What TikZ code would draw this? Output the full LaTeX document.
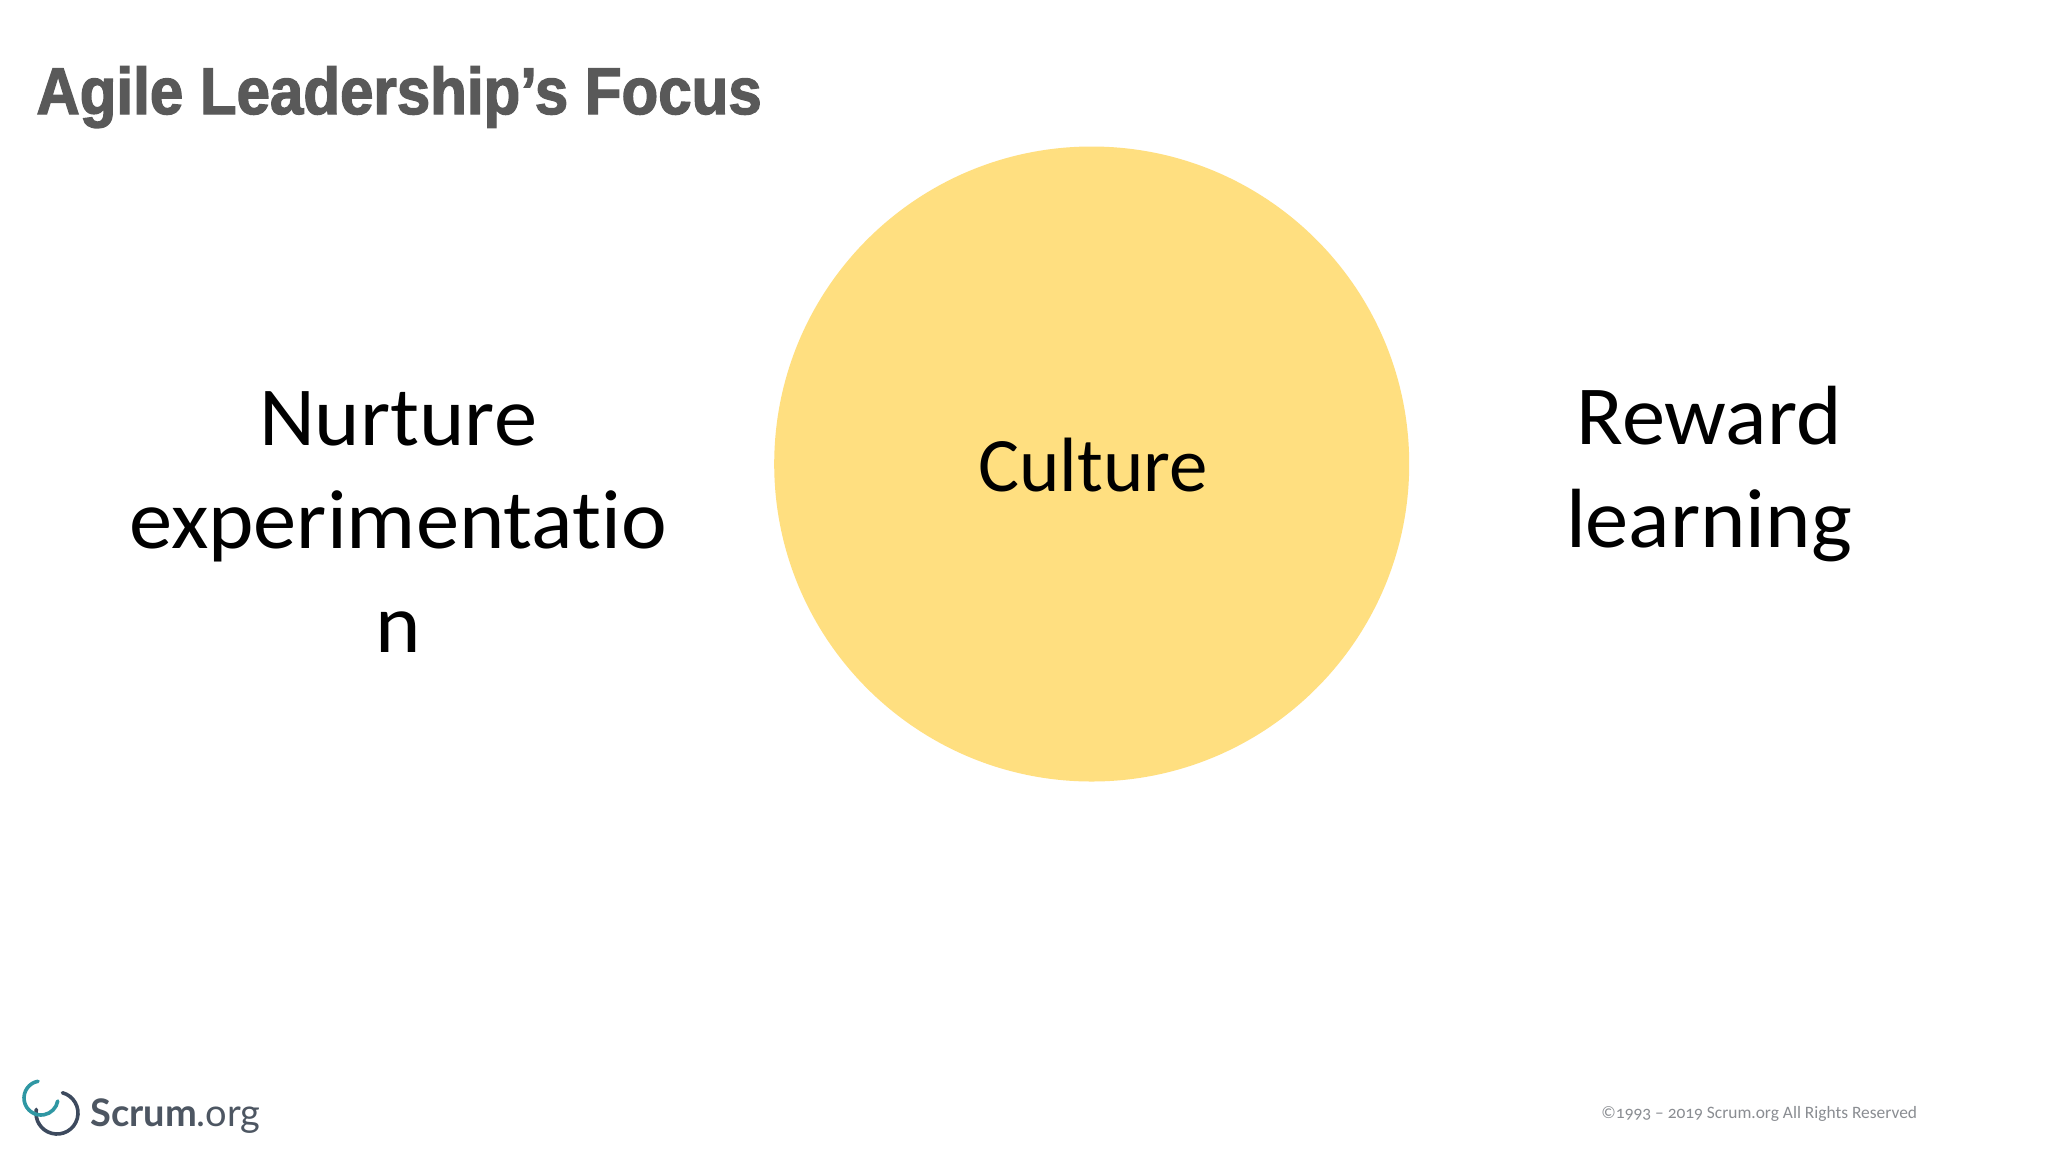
\documentclass[tikz,border=0pt]{standalone}
\usepackage{fontspec}
\usetikzlibrary{calc}
\setmainfont{Carlito}[Ligatures=NoCommon]
\newfontfamily\bigfont[Ligatures=NoCommon,FakeStretch=1.03]{Carlito}
\newfontfamily\titlefont[FakeStretch=0.91,FakeBold=2]{Liberation Sans Bold}
\newfontfamily\logofont{Lato}
\newfontfamily\noteFont[Numbers=OldStyle]{Carlito}
\definecolor{circleyellow}{HTML}{FFDF80}
\definecolor{titlegrey}{HTML}{595959}
\definecolor{notegrey}{HTML}{8A8D92}
\definecolor{logotext}{HTML}{4D5662}
\definecolor{logoteal}{HTML}{2F97A3}
\definecolor{logodark}{HTML}{3D4A5E}
\begin{document}
\begin{tikzpicture}[x=0.5pt,y=-0.5pt,
  bigtext/.style={inner sep=0pt,align=center,font=\bigfont\fontsize{42}{51.7}\selectfont,text=black}]
\useasboundingbox (0,0) rectangle (2048,1152);
\fill[white] (0,0) rectangle (2048,1152);
\node[circle,fill=circleyellow,minimum size=317.5pt,inner sep=0pt] (circ) at (1091.7,464) {};
\node[inner sep=0pt,font=\fontsize{38.5}{46}\selectfont,text=black] (culture) at (1093,465) {Culture};
\node[bigtext] (nurture) at (398,522) {Nurture\\experimentatio\\n};
\node[bigtext] (reward) at (1709,474) {Reward\\learning};
\node[anchor=base west,inner sep=0pt,font=\titlefont\fontsize{33}{40}\selectfont,text=titlegrey] (title) at (36,114) {Agile Leadership’s Focus};
\node[anchor=base west,inner sep=0pt,font=\noteFont\fontsize{8.7}{12}\selectfont,text=notegrey] (note) at (1601,1118) {©1993 – 2019 Scrum.org All Rights Reserved};
\node[anchor=base west,inner sep=0pt,font=\logofont\fontsize{19}{24}\selectfont,text=logotext] (logo) at (90,1126) {\textbf{Scrum}.org};
\coordinate (tealc) at (41,1098);
\coordinate (darkc) at (57,1113);
\draw[logodark,line width=1.8pt,line cap=round] ($(darkc)+(75:10.5pt)$) arc[start angle=75,end angle=-190,radius=10.5pt];
\draw[logoteal,line width=1.8pt,line cap=round] ($(tealc)+(100:8.5pt)$) arc[start angle=100,end angle=350,radius=8.5pt];
\end{tikzpicture}
\end{document}
